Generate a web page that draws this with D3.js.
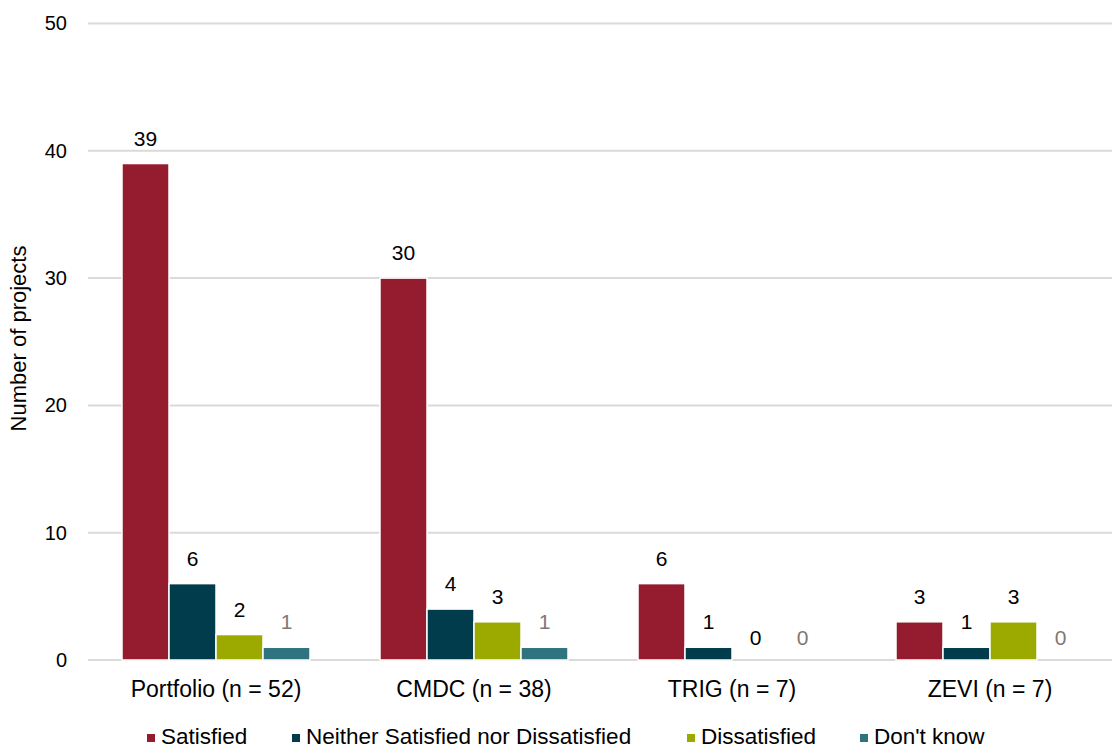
<!DOCTYPE html>
<html>
<head>
<meta charset="utf-8">
<script src="https://cdn.jsdelivr.net/npm/d3@7"></script>
<style>
  html, body { margin: 0; padding: 0; background: #fff; }
  svg { display: block; font-family: "Liberation Sans", Arial, sans-serif; }
</style>
</head>
<body>
<svg id="chart" width="1112" height="749"></svg>
<script>
// Survey responses: number of projects by satisfaction level
const categories = ["Portfolio (n = 52)", "CMDC (n = 38)", "TRIG (n = 7)", "ZEVI (n = 7)"];
const seriesNames = ["Satisfied", "Neither Satisfied nor Dissatisfied", "Dissatisfied", "Don't know"];
const satisfied = [39, 30, 6, 3];
const neither = [6, 4, 1, 1];
const dissatisfied = [2, 3, 0, 3];
const dontKnow = [1, 1, 0, 0];
const yTicks = [0, 10, 20, 30, 40, 50];

const seriesValues = [satisfied, neither, dissatisfied, dontKnow];
const colors = ["#951b2f", "#003c4b", "#9caa00", "#2f737e"];
const labelColors = ["#000", "#000", "#000", "#7f7872"];

const svg = d3.select("#chart");
const W = 1112, H = 749;
const plotLeft = 87, plotRight = 1119, plotTop = 23.5, plotBottom = 660;

const x0 = d3.scaleBand().domain(categories).range([plotLeft, plotRight]).paddingInner(0).paddingOuter(0);
const x1 = d3.scaleBand().domain(seriesNames).range([0, 188]).padding(0);
const groupOffset = (x0.bandwidth() - 188) / 2;
const y = d3.scaleLinear().domain([0, 50]).range([plotBottom, plotTop]);

// Horizontal gridlines
svg.append("g")
  .selectAll("line")
  .data(yTicks)
  .join("line")
  .attr("x1", plotLeft + 1).attr("x2", W)
  .attr("y1", d => y(d)).attr("y2", d => y(d))
  .attr("stroke", "#dcdad6").attr("stroke-width", 2);

// Y axis tick labels
const yAxis = d3.axisLeft(y).tickValues(yTicks).tickSize(0).tickPadding(0);
const yg = svg.append("g").attr("transform", `translate(${plotLeft - 20},0)`).call(yAxis);
yg.select(".domain").remove();
yg.selectAll("text").attr("font-size", 20).attr("fill", "#000")
  .attr("font-family", "Liberation Sans, Arial, sans-serif");

// Y axis title
svg.append("text")
  .attr("transform", `translate(26,338.5) rotate(-90)`)
  .attr("text-anchor", "middle")
  .attr("font-size", 22)
  .text("Number of projects");

// Bars
const groups = svg.append("g").selectAll("g")
  .data(categories)
  .join("g")
  .attr("transform", d => `translate(${x0(d) + groupOffset},0)`);

groups.selectAll("rect")
  .data((c, i) => seriesNames.map((s, j) => ({ s, j, v: seriesValues[j][i] })))
  .join("rect")
  .attr("x", d => x1(d.s))
  .attr("width", x1.bandwidth())
  .attr("y", d => y(d.v))
  .attr("height", d => y(0) - y(d.v))
  .attr("fill", (d) => colors[d.j])
  .attr("stroke", d => d.v > 0 ? "#fff" : "none")
  .attr("stroke-width", 1.5);

// Value labels
groups.selectAll("text")
  .data((c, i) => seriesNames.map((s, j) => ({ s, j, v: seriesValues[j][i] })))
  .join("text")
  .attr("x", d => x1(d.s) + x1.bandwidth() / 2)
  .attr("y", d => y(d.v) - (d.v > 0 ? 18 : 15))
  .attr("text-anchor", "middle")
  .attr("font-size", 21)
  .attr("fill", d => labelColors[d.j])
  .text(d => d.v);

// X axis category labels
const xAxis = d3.axisBottom(x0).tickSize(0).tickPadding(0);
const xg = svg.append("g").attr("transform", `translate(0,697)`).call(xAxis);
xg.select(".domain").remove();
xg.selectAll("text").attr("font-size", 23).attr("fill", "#000")
  .attr("dy", 0)
  .attr("font-family", "Liberation Sans, Arial, sans-serif");

// Legend
const legendX = [147, 292, 687, 860];
const legend = svg.append("g").selectAll("g")
  .data(seriesNames)
  .join("g")
  .attr("transform", (d, i) => `translate(${legendX[i]},744)`);
legend.append("rect")
  .attr("x", 0).attr("y", -10).attr("width", 8).attr("height", 8)
  .attr("fill", (d, i) => colors[i]);
legend.append("text")
  .attr("x", 14).attr("y", 0)
  .attr("font-size", 22.5)
  .text(d => d);
</script>
</body>
</html>
